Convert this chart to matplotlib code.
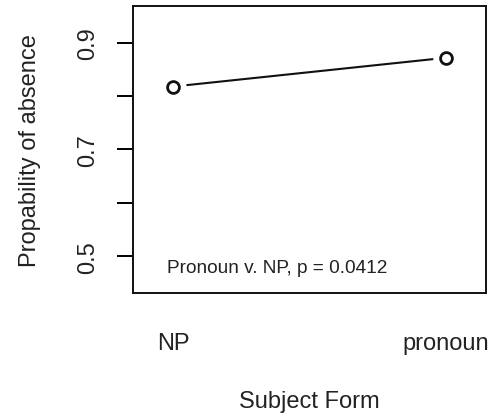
import matplotlib
matplotlib.use("Agg")
import matplotlib.pyplot as plt

plt.rcParams['font.family'] = ['Liberation Sans', 'DejaVu Sans']

# data
forms = ["NP", "pronoun"]
positions = [1, 2]
prob_absence = [0.818, 0.872]
yticks = [0.5, 0.6, 0.7, 0.8, 0.9]
ytick_labels = ["0.5", "", "0.7", "", "0.9"]
note = "Pronoun v. NP, p = 0.0412"

fig = plt.figure(figsize=(4.91, 4.14), dpi=100)
ax = fig.add_axes([0.271, 0.290, 0.719, 0.693])

# line with gaps round the points (like R type="b")
ax.plot(positions, prob_absence, color='#111111', lw=1.5, zorder=1)
ax.plot(positions, prob_absence, 'o', ms=18, mfc='white', mec='white', zorder=2)
ax.plot(positions, prob_absence, 'o', ms=8.5, mfc='white', mec='#111111', mew=2, zorder=3)

ax.set_xlim(0.853, 2.147)
ax.set_ylim(0.431, 0.969)

ax.set_yticks(yticks)
ax.set_yticklabels(ytick_labels, rotation=90, va='center', fontsize=17, color='#222222')
ax.tick_params(axis='y', length=11.5, width=1.4, pad=13)

ax.set_xticks(positions)
ax.set_xticklabels(forms, fontsize=17, color='#222222')
ax.tick_params(axis='x', length=0, pad=28)

for s in ax.spines.values():
    s.set_linewidth(1.4)
    s.set_color('#111111')

ax.set_xlabel("Subject Form", fontsize=17, color='#222222', labelpad=26)
ax.set_ylabel("Propability of absence", fontsize=17, color='#222222', labelpad=26)

ax.text(0.095, 0.088, note, transform=ax.transAxes, fontsize=13.7, color='#222222',
        ha='left', va='center')

fig.savefig("out.png", dpi=100)
